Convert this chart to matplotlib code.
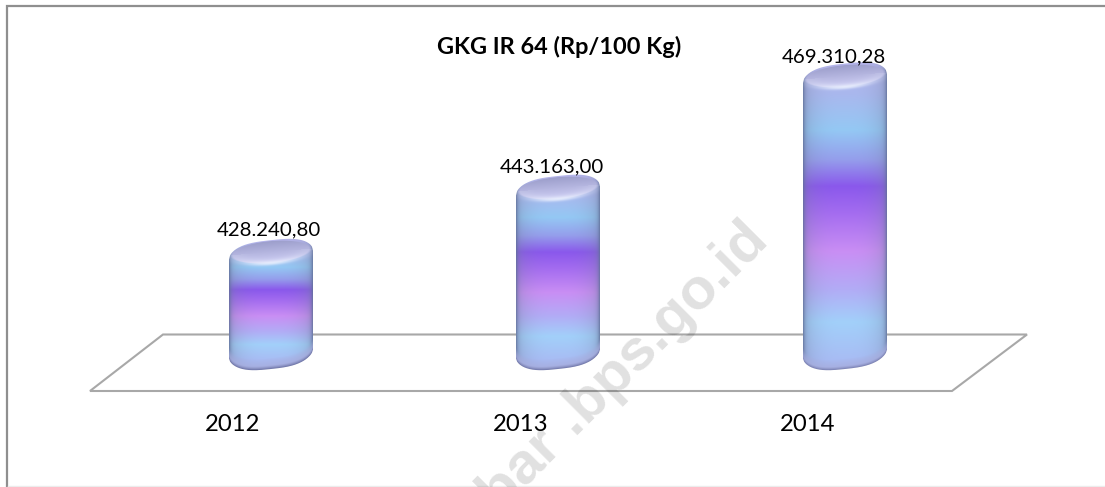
import numpy as np
from matplotlib import pyplot as plt
from matplotlib.colors import to_rgb
from matplotlib.patches import Polygon, PathPatch
from matplotlib.path import Path

plt.rcParams['font.family'] = ['Lato', 'DejaVu Sans']

title = 'GKG IR 64 (Rp/100 Kg)'
years = ['2012', '2013', '2014']
values = [428240.80, 443163.00, 469310.28]
value_labels = ['428.240,80', '443.163,00', '469.310,28']

W, H = 1105, 487
px_x = 287.0        # pixels per category
px_y = 0.0043       # pixels per rupiah
base_val = 400600   # value sitting at the bar foot
base_px = 360
first_px = 271
half_w = 42.0

# gradient down the bar, 0 = top, 1 = bottom
stop_pos = [0.0, 0.10, 0.22, 0.32, 0.41, 0.50, 0.63, 0.76, 0.87, 1.0]
stop_col = ['#b4b4ea', '#a9b8ee', '#94c8f4', '#959eec', '#8a58ec', '#a46cf0', '#c98ef4', '#b2acf6', '#a2d0fa', '#a8bcf4']
stop_rgb = np.array([to_rgb(c) for c in stop_col])


def top_curve(t, top):
    # upper outline, tilted up to the right
    return top - 1 + 15 * (1 - (1 - np.abs(t) ** 3) ** 0.5) - 4.5 * t


def foot_curve(t, foot):
    # lower outline, rounded corners and tilted as well
    return foot + 15 * (1 - np.abs(t) ** 3) ** 0.6 - 4.5 * t - 6


def blend(rgb, col, k):
    return rgb * (1 - k[..., None]) + np.array(to_rgb(col)) * k[..., None]


def bar_image(top, foot):
    n = int(foot - top + 30)
    ys = top - 10 + np.arange(n) + 0.5
    us = np.linspace(-1, 1, 168)
    uu, yy = np.meshgrid(us, ys)
    frac = np.clip((yy - top) / (foot - top), 0, 1)
    rgb = np.stack([np.interp(frac, stop_pos, stop_rgb[:, i]) for i in range(3)], axis=2)

    # soft darker sides
    rgb = blend(rgb, '#76809f', 0.35 * np.abs(uu) ** 3)
    rgb = blend(rgb, '#5f6f98', 0.8 * np.abs(uu) ** 22)

    # rim along the foot, pale then dark at the very edge
    dist = foot_curve(uu * 0.999, foot) - yy
    rgb = blend(rgb, '#a6acdc', np.clip(1 - dist / 11, 0, 1) ** 0.8)
    rgb = blend(rgb, '#6d74a6', np.clip(1 - dist / 4, 0, 1) ** 1.5)

    # cap on top: dull disc with a bright lip under it
    cy = top + 11 - 3.5 * uu
    v = (yy - cy) / 11.0
    ell = uu ** 2 / 0.92 + v ** 2
    cap = np.clip((1.05 - ell) / 0.15, 0, 1)
    low = np.array(to_rgb('#9c9ecb'))
    high = np.array(to_rgb('#cdcdf4'))
    cap_col = low + (np.clip(v, -1, 1)[..., None] + 1) / 2 * (high - low)
    rgb = rgb * (1 - cap[..., None]) + cap_col * cap[..., None]
    lip = np.exp(-((ell - 1.0) / 0.45) ** 2) * (v > 0) * np.exp(-(uu / 0.7) ** 2)
    rgb = blend(rgb, '#eaf0fd', 0.85 * lip)
    return np.clip(rgb, 0, 1)


fig = plt.figure(figsize=(W / 100, H / 100), dpi=100, facecolor='white')

# furniture layer, in pixels
bg = fig.add_axes([0, 0, 1, 1], zorder=0)
bg.set_xlim(0, W)
bg.set_ylim(H, 0)
bg.axis('off')
bg.plot([7, 7, W], [H, 6, 6], color='#8f8f8f', lw=1.6, solid_joinstyle='miter')
bg.plot([8, W], [486, 486], color='#ececec', lw=1.0)
bg.add_patch(Polygon([(90, 391), (163, 334.5), (1027, 334.5), (952, 391)], closed=True,
                     fill=False, ec='#a8a8a8', lw=1.5))

# chart layer, in categories and rupiah
ax = fig.add_axes([0, 0, 1, 1], zorder=1)
ax.patch.set_alpha(0)
ax.axis('off')
ax.set_xlim(-first_px / px_x, (W - first_px) / px_x)
ax.set_ylim(base_val - (H - base_px) / px_y, base_val + base_px / px_y)

label_dx = [-2.5, -6, -11]
label_dy = [11, 10, 8]
year_dx = [-38, -37, -37]

for i in range(len(values)):
    top = base_px - (values[i] - base_val) * px_y
    foot = base_px
    img = bar_image(top, foot)
    x0 = i - half_w / px_x
    x1 = i + half_w / px_x
    y_hi = base_val + (base_px - (top - 10)) / px_y
    y_lo = y_hi - img.shape[0] / px_y
    im = ax.imshow(img, extent=[x0, x1, y_lo, y_hi], aspect='auto', zorder=3,
                   interpolation='bilinear')

    t = np.linspace(-1, 1, 81)
    up_x = i + t * half_w / px_x
    up_y = base_val + (base_px - top_curve(t, top)) / px_y
    lo_y = base_val + (base_px - foot_curve(t[::-1], foot)) / px_y
    verts = np.concatenate([np.column_stack([up_x, up_y]),
                            np.column_stack([up_x[::-1], lo_y])])
    outline = PathPatch(Path(np.vstack([verts, verts[0]])), transform=ax.transData, fc='none', ec='none')
    ax.add_patch(outline)
    im.set_clip_path(outline)

    ax.annotate(value_labels[i], (i, values[i]), xytext=(label_dx[i], label_dy[i]), textcoords='offset pixels',
                ha='center', va='center', fontsize=14.7, color='black', zorder=5)
    ax.annotate(years[i], (i, base_val), xytext=(year_dx[i], -65), textcoords='offset pixels',
                ha='center', va='center', fontsize=17.2, color='black', zorder=5)

ax.set_xlim(-first_px / px_x, (W - first_px) / px_x)
ax.set_ylim(base_val - (H - base_px) / px_y, base_val + base_px / px_y)

fig.text(559.5 / W, 1 - 47 / H, title, ha='center', va='center', fontsize=16.9, fontweight='bold', color='black', zorder=5)

# watermark
fig.text(635 / W, 1 - 378 / H, 'bar .bps.go.id', ha='center', va='baseline', rotation=45,
         rotation_mode='anchor', family='Liberation Sans', fontsize=42, fontweight='bold',
         color='black', alpha=0.12, zorder=6)

fig.savefig('out.png', dpi=100)
